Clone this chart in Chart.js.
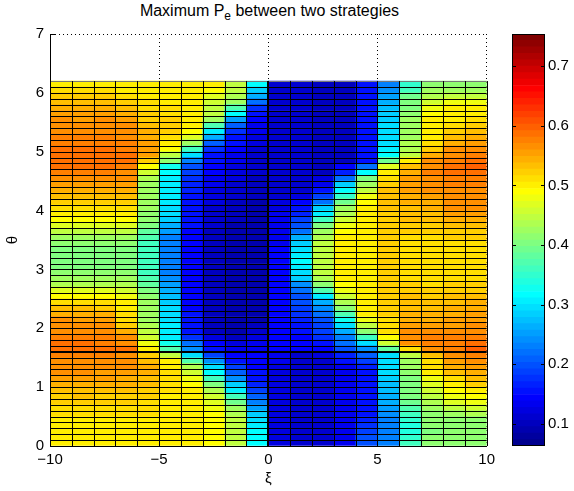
<!DOCTYPE html>
<html>
<head>
<meta charset="utf-8">
<script src="https://cdn.jsdelivr.net/npm/chart.js@4.4.0/dist/chart.umd.min.js"></script>
<style>
  html, body { margin: 0; padding: 0; background: #fff; }
  #wrap { position: relative; width: 574px; height: 491px; font-family: "Liberation Sans", Arial, sans-serif; }
  #title { position: absolute; left: 0; top: 1px; width: 539px; text-align: center; font-size: 16px; line-height: 20px; color: #000; }
  #title sub { font-size: 12px; vertical-align: -4px; line-height: 0; }
  #main { position: absolute; left: 0; top: 0; }
  #bar { position: absolute; left: 500px; top: 0; }
</style>
</head>
<body>
<div id="wrap">
  <div id="title">Maximum P<sub>e</sub> between two strategies</div>
  <canvas id="main" width="500" height="491"></canvas>
  <canvas id="bar" width="74" height="491"></canvas>
</div>
<script>
// row edges in theta (cells are drawn between consecutive edges)
const thetaEdges = [
  0, 0.1, 0.2, 0.3, 0.4, 0.5, 0.6, 0.7, 0.8, 0.9,
  1.0, 1.1, 1.2, 1.3, 1.4, 1.5, 1.6, 1.7, 1.8, 1.9,
  2.0, 2.1, 2.2, 2.3, 2.4, 2.5, 2.6, 2.7, 2.8, 2.9,
  3.0, 3.1, 3.2, 3.3, 3.4, 3.5, 3.6, 3.7, 3.8, 3.9,
  4.0, 4.1, 4.2, 4.3, 4.4, 4.5, 4.6, 4.7, 4.8, 4.9,
  5.0, 5.1, 5.2, 5.3, 5.4, 5.5, 5.6, 5.7, 5.8, 5.9,
  6.0, 6.1, 6.2
];
// column edges and centres in xi
const xEdges = [-10, -9, -8, -7, -6, -5, -4, -3, -2, -1, 0, 1, 2, 3, 4, 5, 6, 7, 8, 9, 10];
const xCenters = ['-9.5', '-8.5', '-7.5', '-6.5', '-5.5', '-4.5', '-3.5', '-2.5', '-1.5', '-0.5',
                  '0.5', '1.5', '2.5', '3.5', '4.5', '5.5', '6.5', '7.5', '8.5', '9.5'];

const xTicks = [-10, -5, 0, 5, 10];
const yTicks = [0, 1, 2, 3, 4, 5, 6, 7];
const colorTicks = [0.1, 0.2, 0.3, 0.4, 0.5, 0.6, 0.7];

// max Pe per column, bottom row (theta=0) first
const colXm10 = [
  0.495, 0.495, 0.50, 0.50, 0.505, 0.51, 0.515, 0.52, 0.525, 0.535,
  0.545, 0.55, 0.56, 0.565, 0.57, 0.575, 0.59, 0.585, 0.575, 0.57,
  0.565, 0.56, 0.545, 0.53, 0.51, 0.49, 0.465, 0.44, 0.42, 0.41,
  0.405, 0.40, 0.40, 0.405, 0.415, 0.43, 0.45, 0.47, 0.49, 0.50,
  0.51, 0.525, 0.535, 0.545, 0.555, 0.565, 0.575, 0.585, 0.59, 0.59,
  0.585, 0.58, 0.575, 0.57, 0.565, 0.56, 0.55, 0.54, 0.53, 0.52,
  0.51, 0.50];
const colXm9 = [
  0.495, 0.50, 0.50, 0.505, 0.505, 0.51, 0.515, 0.52, 0.53, 0.535,
  0.545, 0.55, 0.56, 0.565, 0.57, 0.58, 0.59, 0.585, 0.575, 0.57,
  0.565, 0.555, 0.545, 0.53, 0.51, 0.49, 0.465, 0.44, 0.42, 0.41,
  0.405, 0.40, 0.40, 0.405, 0.415, 0.43, 0.45, 0.47, 0.49, 0.50,
  0.51, 0.525, 0.535, 0.545, 0.555, 0.565, 0.575, 0.585, 0.59, 0.59,
  0.585, 0.58, 0.575, 0.57, 0.565, 0.555, 0.55, 0.54, 0.53, 0.52,
  0.51, 0.50];
const colXm8 = [
  0.495, 0.495, 0.50, 0.50, 0.505, 0.51, 0.515, 0.52, 0.525, 0.535,
  0.54, 0.55, 0.555, 0.565, 0.57, 0.575, 0.59, 0.58, 0.575, 0.565,
  0.56, 0.55, 0.54, 0.525, 0.51, 0.49, 0.465, 0.44, 0.42, 0.41,
  0.405, 0.40, 0.40, 0.405, 0.415, 0.43, 0.45, 0.47, 0.49, 0.50,
  0.51, 0.52, 0.535, 0.545, 0.555, 0.565, 0.575, 0.585, 0.59, 0.59,
  0.585, 0.58, 0.575, 0.57, 0.565, 0.56, 0.55, 0.54, 0.53, 0.52,
  0.51, 0.50];
const colXm7 = [
  0.495, 0.495, 0.50, 0.50, 0.505, 0.51, 0.515, 0.52, 0.525, 0.53,
  0.54, 0.545, 0.555, 0.56, 0.565, 0.57, 0.585, 0.57, 0.56, 0.545,
  0.525, 0.515, 0.51, 0.50, 0.495, 0.48, 0.46, 0.44, 0.42, 0.41,
  0.405, 0.40, 0.40, 0.405, 0.415, 0.43, 0.45, 0.47, 0.49, 0.50,
  0.51, 0.52, 0.53, 0.54, 0.55, 0.56, 0.57, 0.58, 0.585, 0.585,
  0.58, 0.575, 0.57, 0.565, 0.56, 0.555, 0.545, 0.535, 0.525, 0.515,
  0.505, 0.50];
const colXm6 = [
  0.50, 0.50, 0.50, 0.50, 0.505, 0.51, 0.51, 0.515, 0.52, 0.525,
  0.53, 0.535, 0.54, 0.54, 0.535, 0.525, 0.50, 0.48, 0.46, 0.45,
  0.44, 0.43, 0.425, 0.42, 0.42, 0.41, 0.40, 0.38, 0.37, 0.365,
  0.36, 0.36, 0.36, 0.36, 0.365, 0.37, 0.38, 0.40, 0.41, 0.415,
  0.42, 0.42, 0.42, 0.42, 0.43, 0.44, 0.46, 0.49, 0.52, 0.55,
  0.555, 0.55, 0.545, 0.54, 0.53, 0.525, 0.52, 0.515, 0.51, 0.505,
  0.50, 0.50];
const colXm5 = [
  0.50, 0.50, 0.50, 0.50, 0.50, 0.50, 0.50, 0.50, 0.505, 0.51,
  0.51, 0.51, 0.51, 0.505, 0.495, 0.45, 0.37, 0.33, 0.31, 0.305,
  0.31, 0.30, 0.30, 0.295, 0.285, 0.275, 0.26, 0.25, 0.24, 0.235,
  0.23, 0.23, 0.23, 0.23, 0.23, 0.235, 0.25, 0.26, 0.285, 0.295,
  0.30, 0.305, 0.31, 0.31, 0.31, 0.31, 0.315, 0.33, 0.41, 0.45,
  0.49, 0.50, 0.515, 0.52, 0.52, 0.52, 0.515, 0.51, 0.505, 0.50,
  0.50, 0.50];
const colXm4 = [
  0.50, 0.50, 0.50, 0.50, 0.50, 0.50, 0.50, 0.50, 0.50, 0.50,
  0.49, 0.48, 0.46, 0.44, 0.37, 0.30, 0.24, 0.22, 0.18, 0.16,
  0.15, 0.15, 0.15, 0.145, 0.145, 0.14, 0.14, 0.14, 0.14, 0.14,
  0.14, 0.14, 0.14, 0.14, 0.14, 0.145, 0.145, 0.15, 0.15, 0.155,
  0.16, 0.16, 0.16, 0.165, 0.17, 0.175, 0.19, 0.20, 0.23, 0.29,
  0.36, 0.42, 0.47, 0.49, 0.495, 0.50, 0.50, 0.50, 0.50, 0.50,
  0.50, 0.50];
const colXm3 = [
  0.49, 0.49, 0.49, 0.49, 0.49, 0.485, 0.48, 0.47, 0.46, 0.44,
  0.40, 0.36, 0.32, 0.30, 0.24, 0.19, 0.16, 0.14, 0.12, 0.105,
  0.10, 0.10, 0.10, 0.10, 0.10, 0.10, 0.10, 0.10, 0.10, 0.10,
  0.10, 0.10, 0.10, 0.10, 0.10, 0.10, 0.105, 0.11, 0.11, 0.11,
  0.115, 0.12, 0.12, 0.12, 0.13, 0.13, 0.14, 0.14, 0.15, 0.16,
  0.18, 0.21, 0.26, 0.31, 0.37, 0.42, 0.45, 0.45, 0.46, 0.47,
  0.49, 0.50];
const colXm2 = [
  0.45, 0.45, 0.45, 0.45, 0.445, 0.44, 0.43, 0.39, 0.36, 0.31,
  0.28, 0.24, 0.21, 0.19, 0.15, 0.14, 0.13, 0.12, 0.10, 0.09,
  0.09, 0.09, 0.09, 0.09, 0.09, 0.09, 0.09, 0.09, 0.09, 0.09,
  0.09, 0.09, 0.09, 0.09, 0.09, 0.09, 0.095, 0.095, 0.10, 0.10,
  0.10, 0.10, 0.11, 0.11, 0.11, 0.12, 0.12, 0.12, 0.13, 0.13,
  0.14, 0.15, 0.16, 0.18, 0.21, 0.25, 0.32, 0.37, 0.42, 0.44,
  0.45, 0.45];
const colXm1 = [
  0.32, 0.32, 0.32, 0.31, 0.30, 0.28, 0.256, 0.235, 0.21, 0.19,
  0.17, 0.16, 0.15, 0.145, 0.14, 0.14, 0.13, 0.13, 0.12, 0.11,
  0.10, 0.095, 0.09, 0.09, 0.09, 0.09, 0.09, 0.09, 0.09, 0.09,
  0.09, 0.09, 0.09, 0.09, 0.09, 0.09, 0.09, 0.09, 0.09, 0.09,
  0.09, 0.095, 0.10, 0.10, 0.10, 0.105, 0.11, 0.11, 0.11, 0.11,
  0.11, 0.12, 0.12, 0.13, 0.13, 0.145, 0.16, 0.18, 0.22, 0.26,
  0.285, 0.32];
const colX0 = [
  0.12, 0.12, 0.12, 0.12, 0.12, 0.12, 0.12, 0.12, 0.12, 0.12,
  0.12, 0.12, 0.125, 0.125, 0.13, 0.13, 0.14, 0.14, 0.14, 0.14,
  0.14, 0.14, 0.14, 0.14, 0.14, 0.14, 0.14, 0.14, 0.14, 0.14,
  0.14, 0.14, 0.14, 0.14, 0.135, 0.135, 0.13, 0.13, 0.13, 0.13,
  0.125, 0.12, 0.11, 0.11, 0.11, 0.11, 0.11, 0.11, 0.11, 0.11,
  0.11, 0.11, 0.11, 0.11, 0.11, 0.11, 0.11, 0.11, 0.11, 0.11,
  0.11, 0.11];
const colX1 = [
  0.11, 0.11, 0.11, 0.11, 0.11, 0.11, 0.11, 0.11, 0.11, 0.11,
  0.11, 0.11, 0.11, 0.11, 0.11, 0.11, 0.14, 0.14, 0.145, 0.15,
  0.16, 0.17, 0.18, 0.19, 0.195, 0.20, 0.215, 0.245, 0.28, 0.30,
  0.31, 0.315, 0.31, 0.30, 0.28, 0.26, 0.22, 0.20, 0.19, 0.17,
  0.16, 0.14, 0.12, 0.11, 0.11, 0.11, 0.11, 0.11, 0.11, 0.11,
  0.11, 0.11, 0.11, 0.11, 0.11, 0.11, 0.11, 0.11, 0.11, 0.11,
  0.11, 0.11];
const colX2 = [
  0.11, 0.11, 0.11, 0.11, 0.11, 0.11, 0.11, 0.11, 0.11, 0.11,
  0.11, 0.11, 0.11, 0.11, 0.11, 0.12, 0.14, 0.16, 0.18, 0.19,
  0.19, 0.20, 0.22, 0.24, 0.26, 0.31, 0.37, 0.41, 0.44, 0.445,
  0.45, 0.45, 0.45, 0.45, 0.445, 0.44, 0.43, 0.40, 0.36, 0.31,
  0.28, 0.22, 0.19, 0.16, 0.13, 0.12, 0.105, 0.105, 0.105, 0.105,
  0.105, 0.105, 0.105, 0.105, 0.105, 0.105, 0.105, 0.105, 0.105, 0.105,
  0.105, 0.105];
const colX3 = [
  0.13, 0.13, 0.13, 0.13, 0.13, 0.13, 0.13, 0.13, 0.13, 0.13,
  0.13, 0.13, 0.13, 0.135, 0.15, 0.17, 0.20, 0.215, 0.235, 0.26,
  0.30, 0.33, 0.37, 0.41, 0.44, 0.46, 0.48, 0.49, 0.50, 0.50,
  0.50, 0.50, 0.50, 0.50, 0.50, 0.50, 0.49, 0.48, 0.46, 0.44,
  0.42, 0.39, 0.35, 0.32, 0.28, 0.22, 0.17, 0.14, 0.10, 0.10,
  0.10, 0.10, 0.10, 0.10, 0.10, 0.10, 0.10, 0.10, 0.10, 0.10,
  0.10, 0.10];
const colX4 = [
  0.20, 0.195, 0.19, 0.18, 0.17, 0.16, 0.15, 0.15, 0.15, 0.15,
  0.15, 0.15, 0.16, 0.17, 0.19, 0.21, 0.24, 0.30, 0.36, 0.41,
  0.45, 0.48, 0.50, 0.505, 0.505, 0.505, 0.505, 0.505, 0.505, 0.505,
  0.505, 0.505, 0.505, 0.505, 0.505, 0.505, 0.505, 0.505, 0.505, 0.505,
  0.50, 0.49, 0.48, 0.45, 0.43, 0.40, 0.32, 0.22, 0.16, 0.15,
  0.15, 0.15, 0.15, 0.15, 0.15, 0.15, 0.15, 0.15, 0.15, 0.15,
  0.15, 0.15];
const colX5 = [
  0.235, 0.235, 0.235, 0.225, 0.235, 0.245, 0.256, 0.26, 0.265, 0.277,
  0.277, 0.285, 0.29, 0.29, 0.30, 0.30, 0.38, 0.46, 0.49, 0.51,
  0.51, 0.515, 0.52, 0.52, 0.52, 0.52, 0.52, 0.52, 0.52, 0.52,
  0.52, 0.52, 0.52, 0.52, 0.52, 0.52, 0.52, 0.52, 0.52, 0.52,
  0.53, 0.53, 0.53, 0.53, 0.52, 0.51, 0.50, 0.47, 0.39, 0.315,
  0.31, 0.30, 0.30, 0.30, 0.295, 0.285, 0.28, 0.27, 0.26, 0.25,
  0.24, 0.235];
const colX6 = [
  0.36, 0.35, 0.34, 0.34, 0.35, 0.36, 0.375, 0.39, 0.40, 0.405,
  0.405, 0.405, 0.41, 0.42, 0.43, 0.45, 0.51, 0.565, 0.57, 0.565,
  0.55, 0.545, 0.54, 0.535, 0.53, 0.53, 0.525, 0.52, 0.515, 0.515,
  0.515, 0.515, 0.515, 0.515, 0.515, 0.515, 0.52, 0.525, 0.53, 0.53,
  0.535, 0.54, 0.545, 0.55, 0.555, 0.55, 0.54, 0.53, 0.50, 0.45,
  0.44, 0.44, 0.43, 0.43, 0.43, 0.42, 0.41, 0.40, 0.40, 0.39,
  0.36, 0.35];
const colX7 = [
  0.41, 0.41, 0.40, 0.41, 0.41, 0.41, 0.42, 0.44, 0.45, 0.46,
  0.47, 0.48, 0.495, 0.51, 0.515, 0.535, 0.57, 0.58, 0.58, 0.57,
  0.555, 0.545, 0.54, 0.535, 0.53, 0.525, 0.52, 0.515, 0.515, 0.515,
  0.515, 0.515, 0.515, 0.515, 0.515, 0.515, 0.52, 0.525, 0.53, 0.535,
  0.54, 0.545, 0.555, 0.56, 0.565, 0.57, 0.575, 0.57, 0.56, 0.54,
  0.52, 0.51, 0.505, 0.50, 0.50, 0.50, 0.49, 0.48, 0.46, 0.44,
  0.42, 0.41];
const colX8 = [
  0.41, 0.41, 0.41, 0.41, 0.415, 0.43, 0.45, 0.47, 0.48, 0.49,
  0.50, 0.515, 0.535, 0.545, 0.555, 0.565, 0.58, 0.58, 0.575, 0.565,
  0.555, 0.55, 0.545, 0.54, 0.535, 0.53, 0.525, 0.52, 0.515, 0.515,
  0.515, 0.515, 0.515, 0.515, 0.515, 0.52, 0.525, 0.53, 0.54, 0.55,
  0.56, 0.565, 0.565, 0.57, 0.575, 0.58, 0.585, 0.585, 0.58, 0.57,
  0.56, 0.545, 0.535, 0.525, 0.515, 0.505, 0.50, 0.50, 0.48, 0.45,
  0.43, 0.41];
const colX9 = [
  0.41, 0.41, 0.41, 0.41, 0.415, 0.44, 0.46, 0.48, 0.49, 0.505,
  0.52, 0.535, 0.545, 0.555, 0.57, 0.58, 0.595, 0.59, 0.58, 0.57,
  0.56, 0.555, 0.55, 0.545, 0.54, 0.535, 0.525, 0.52, 0.515, 0.515,
  0.515, 0.515, 0.515, 0.515, 0.515, 0.52, 0.525, 0.535, 0.545, 0.555,
  0.56, 0.565, 0.565, 0.57, 0.575, 0.58, 0.59, 0.595, 0.59, 0.58,
  0.565, 0.55, 0.54, 0.53, 0.52, 0.51, 0.50, 0.50, 0.48, 0.45,
  0.43, 0.41];

const columns = [colXm10, colXm9, colXm8, colXm7, colXm6, colXm5, colXm4, colXm3, colXm2, colXm1,
                 colX0, colX1, colX2, colX3, colX4, colX5, colX6, colX7, colX8, colX9];

// colour limits of the colour bar
const cmin = 0.063, cmax = 0.754;

// matlab jet(64), k = 1..64
function jet(k) {
  const x = k / 64;
  const c = (v) => Math.round(255 * Math.max(0, Math.min(1, v)));
  return 'rgb(' + c(1.5 - Math.abs(4 * x - 3)) + ',' + c(1.5 - Math.abs(4 * x - 2)) + ',' + c(1.5 - Math.abs(4 * x - 1)) + ')';
}
function colorFor(v) {
  let i = Math.floor((v - cmin) / (cmax - cmin) * 64);
  i = Math.max(0, Math.min(63, i));
  return jet(i + 1);
}

const font = { family: '"Liberation Sans", Arial, sans-serif', size: 15 };
const fixTicks = (values) => (scale) => { scale.ticks = values.map((v) => ({ value: v })); };

const rowSets = [];
for (let r = 0; r < thetaEdges.length - 1; r++) {
  rowSets.push({
    data: columns.map(() => [thetaEdges[r], thetaEdges[r + 1]]),
    backgroundColor: columns.map((col) => colorFor(col[r])),
    borderWidth: 0,
    grouped: false,
    barPercentage: 1,
    categoryPercentage: 1,
  });
}

// short inward tick marks, drawn under the cells like matlab's bottom layer
const innerTicks = {
  id: 'innerTicks',
  beforeDatasetsDraw(chart) {
    const { ctx, chartArea: a } = chart;
    const xs = chart.scales.x2, ys = chart.scales.y;
    ctx.save();
    ctx.strokeStyle = '#000';
    ctx.lineWidth = 1;
    ctx.beginPath();
    yTicks.forEach((v) => {
      const py = Math.round(ys.getPixelForValue(v)) + 0.5;
      ctx.moveTo(a.left, py); ctx.lineTo(a.left + 5, py);
    });
    xTicks.forEach((v) => {
      const px = Math.round(xs.getPixelForValue(v)) + 0.5;
      ctx.moveTo(px, a.bottom); ctx.lineTo(px, a.bottom - 5);
    });
    ctx.stroke();
    ctx.restore();
  },
};

// black cell edges like pcolor's faceted shading
const cellMesh = {
  id: 'cellMesh',
  afterDatasetsDraw(chart) {
    const { ctx } = chart;
    const xs = chart.scales.x2, ys = chart.scales.y;
    const yTop = ys.getPixelForValue(thetaEdges[thetaEdges.length - 1]);
    const yBot = ys.getPixelForValue(thetaEdges[0]);
    const xL = xs.getPixelForValue(xEdges[0]);
    const xR = xs.getPixelForValue(xEdges[xEdges.length - 1]);
    ctx.save();
    thetaEdges.forEach((t, i) => {
      const w = (t === 1.6) ? 2 : 1;
      const py = Math.round(ys.getPixelForValue(t)) + (w === 1 ? 0.5 : 0);
      ctx.lineWidth = w;
      ctx.strokeStyle = (i === thetaEdges.length - 1) ? '#777' : '#000';
      ctx.beginPath(); ctx.moveTo(xL, py); ctx.lineTo(xR, py); ctx.stroke();
    });
    ctx.strokeStyle = '#000';
    xEdges.forEach((x) => {
      const w = (x === 0) ? 2 : 1;
      const px = Math.round(xs.getPixelForValue(x)) + (w === 1 ? 0.5 : 0);
      ctx.lineWidth = w;
      ctx.beginPath(); ctx.moveTo(px, yTop); ctx.lineTo(px, yBot); ctx.stroke();
    });
    ctx.restore();
  },
};

new Chart(document.getElementById('main'), {
  type: 'bar',
  data: { labels: xCenters, datasets: rowSets },
  options: {
    responsive: false,
    animation: false,
    devicePixelRatio: 1,
    layout: { padding: { top: 34, right: 11, left: 0, bottom: 0 } },
    plugins: { legend: { display: false }, tooltip: { enabled: false } },
    scales: {
      x: { type: 'category', display: false },
      x2: {
        type: 'linear', position: 'bottom', min: -10, max: 10, offset: false,
        afterBuildTicks: fixTicks(xTicks),
        afterFit: (s) => { s.height = 45; },
        ticks: {
          font: font, color: '#000', padding: 5, maxRotation: 0, autoSkip: false,
          callback: (v) => (v < 0 ? '\u2212' + Math.abs(v) : String(v)),
        },
        grid: { color: '#000', lineWidth: 1, drawTicks: false, offset: false },
        border: { display: true, color: '#000', width: 1, dash: [1, 3], z: 1 },
        title: { display: true, text: 'ξ', font: font, color: '#000', padding: { top: 0, bottom: 3 } },
      },
      y: {
        type: 'linear', min: 0, max: 7,
        afterBuildTicks: fixTicks(yTicks),
        afterFit: (s) => { s.width = 50; },
        ticks: { font: font, color: '#000', padding: 6 },
        grid: { color: '#000', lineWidth: 1, drawTicks: false },
        border: { display: true, color: '#000', width: 1, dash: [1, 3], z: 1 },
        title: { display: true, text: 'θ', font: font, color: '#000', padding: { top: 4, bottom: 0 } },
      },
    },
  },
  plugins: [innerTicks, cellMesh],
});

// colour bar: one band per colormap entry
const bandSets = [];
for (let k = 1; k <= 64; k++) {
  bandSets.push({
    data: [[cmin + (k - 1) * (cmax - cmin) / 64, cmin + k * (cmax - cmin) / 64]],
    backgroundColor: jet(k),
    borderWidth: 0,
    grouped: false,
    barPercentage: 1,
    categoryPercentage: 1,
  });
}

const barFrame = {
  id: 'barFrame',
  afterDraw(chart) {
    const { ctx, chartArea: a } = chart;
    const y = chart.scales.y;
    ctx.save();
    ctx.strokeStyle = '#000';
    ctx.lineWidth = 1;
    ctx.strokeRect(Math.round(a.left) + 0.5, Math.round(a.top) + 0.5, Math.round(a.right - a.left) - 1, Math.round(a.bottom - a.top) - 1);
    ctx.beginPath();
    colorTicks.forEach((v) => {
      const py = Math.round(y.getPixelForValue(v)) + 0.5;
      ctx.moveTo(a.left, py); ctx.lineTo(a.left + 4, py);
      ctx.moveTo(a.right - 4, py); ctx.lineTo(a.right, py);
    });
    ctx.stroke();
    ctx.restore();
  },
};

new Chart(document.getElementById('bar'), {
  type: 'bar',
  data: { labels: [''], datasets: bandSets },
  options: {
    responsive: false,
    animation: false,
    devicePixelRatio: 1,
    layout: { padding: { top: 34, right: 0, left: 12, bottom: 45 } },
    plugins: { legend: { display: false }, tooltip: { enabled: false } },
    scales: {
      x: { type: 'category', display: false },
      y: {
        type: 'linear', position: 'right', min: cmin, max: cmax,
        afterBuildTicks: fixTicks(colorTicks),
        afterFit: (s) => { s.width = 29; },
        ticks: { font: font, color: '#000', padding: 3, callback: (v) => v.toFixed(1) },
        grid: { display: false, drawTicks: false },
        border: { display: false },
      },
    },
  },
  plugins: [barFrame],
});
</script>
</body>
</html>
